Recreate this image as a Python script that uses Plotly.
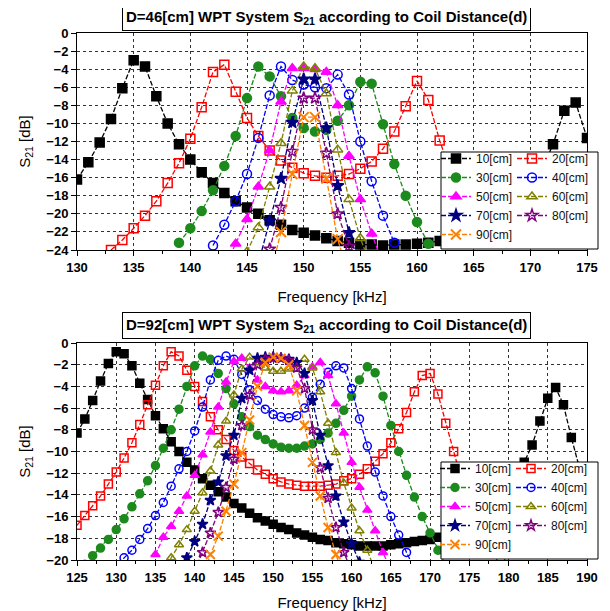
import plotly.graph_objects as go

# ---------------- data: top chart (D=46cm) ----------------
t10_f = list(range(130, 176))
t10_v = [-16.2, -14.3, -12.1, -9.5, -6.1, -3.0, -3.7, -7.0, -10.0, -12.3, -14.0, -15.4, -16.6, -17.7, -18.6,
         -19.3, -20.0, -20.7, -21.2, -21.8, -22.1, -22.4, -22.7, -23.0, -23.2, -23.4, -23.4, -23.5, -23.4, -23.4,
         -23.3, -23.2, -23.0, -22.8, -22.5, -22.0, -21.3, -20.5, -19.5, -18.0, -16.5, -15.3, -12.3, -8.6, -7.7, -11.6]
t20_f = list(range(133, 167))
t20_v = [-24.0, -22.9, -21.6, -20.2, -18.6, -16.6, -14.4, -11.7, -8.2, -4.3, -3.5, -6.5, -9.4, -11.4, -13.0, -14.1,
         -14.9, -15.5, -15.8, -16.0, -15.8, -15.6, -15.0, -14.2, -12.8, -10.9, -8.1, -5.3, -7.4, -11.9, -15.5, -18.5,
         -21.0, -23.3]
t30_f = list(range(139, 162))
t30_v = [-23.2, -21.6, -19.7, -17.4, -14.7, -11.4, -7.2, -3.7, -4.8, -7.0, -9.4, -10.5, -10.9, -10.7, -9.7, -8.0,
         -5.4, -5.6, -10.1, -14.5, -18.0, -20.9, -23.3]
t40_f = list(range(142, 159))
t40_v = [-23.5, -21.2, -18.6, -15.6, -11.6, -6.9, -3.7, -5.2, -5.7, -6.0, -6.1, -4.6, -6.8, -12.0, -16.4, -20.2, -23.2]
t50_f = list(range(143, 158))
t50_v = [-26.0, -23.3, -20.6, -17.0, -13.0, -7.6, -3.9, -3.9, -4.0, -4.3, -8.0, -13.6, -18.4, -22.2, -25.5]
t60_f = list(range(145, 157))
t60_v = [-24.2, -21.5, -17.0, -12.2, -6.4, -3.7, -3.9, -6.7, -12.9, -18.4, -22.7, -26.0]
t70_f = list(range(146, 156))
t70_v = [-25.5, -20.8, -16.1, -9.9, -5.1, -5.1, -10.5, -16.9, -22.1, -26.0]
t80_f = list(range(147, 155))
t80_v = [-23.9, -19.3, -13.1, -7.2, -7.2, -13.3, -20.0, -23.6]
t90_f = list(range(147, 155))
t90_v = [-27.0, -22.0, -15.6, -9.3, -9.3, -16.1, -22.8, -27.0]

# ---------------- data: bottom chart (D=92cm) ----------------
b10_f = list(range(125, 190))
b10_v = [-8.3, -7.0, -5.3, -3.5, -1.9, -0.8, -1.0, -2.1, -3.7, -5.2, -6.7, -7.9, -9.1, -10.0, -11.0, -11.7, -12.5,
         -13.1, -13.7, -14.2, -14.8, -15.2, -15.7, -16.1, -16.4, -16.7, -17.0, -17.2, -17.5, -17.7, -17.9, -18.1,
         -18.2, -18.4, -18.5, -18.6, -18.7, -18.7, -18.7, -18.7, -18.6, -18.5, -18.4, -18.3, -18.2, -18.1, -17.9,
         -17.8, -17.6, -17.3, -17.0, -16.6, -16.1, -15.5, -14.6, -13.5, -12.3, -11.0, -9.4, -7.2, -5.1, -4.1, -5.7,
         -8.7, -11.4]
b20_f = list(range(125, 180))
b20_v = [-16.8, -15.9, -15.0, -14.1, -13.0, -11.9, -10.6, -9.2, -7.5, -5.7, -3.9, -2.1, -0.8, -1.2, -2.5, -4.0,
         -5.4, -6.8, -8.0, -8.9, -9.9, -10.5, -11.1, -11.7, -12.1, -12.5, -12.8, -13.0, -13.1, -13.2, -13.2, -13.2,
         -13.1, -13.0, -12.7, -12.5, -12.1, -11.6, -10.9, -10.2, -9.2, -7.9, -6.4, -4.5, -3.0, -2.8, -4.7, -7.4,
         -10.0, -12.6, -15.0, -16.8, -18.1, -19.0, -20.1]
b30_f = list(range(126, 173))
b30_v = [-20.4, -19.6, -18.9, -18.1, -17.2, -16.2, -15.1, -13.9, -12.7, -11.3, -9.7, -8.0, -6.1, -4.0, -2.1, -1.2,
         -1.5, -2.8, -4.2, -5.6, -6.8, -7.7, -8.5, -8.9, -9.3, -9.6, -9.7, -9.7, -9.5, -9.3, -8.9, -8.3, -7.4, -6.2,
         -4.9, -3.4, -2.2, -2.75, -4.9, -7.6, -10.0, -12.2, -14.2, -16.0, -17.5, -19.1, -20.5]
b40_f = list(range(130, 169))
b40_v = [-21.0, -19.8, -19.1, -18.1, -17.1, -15.9, -14.7, -13.2, -11.6, -10.0, -8.1, -5.9, -3.4, -1.6, -1.2, -1.5,
         -2.9, -4.3, -5.3, -6.1, -6.6, -6.8, -6.9, -6.7, -6.0, -5.0, -3.8, -2.7, -2.1, -2.3, -4.2, -7.0, -9.5, -11.9,
         -14.1, -16.0, -17.7, -19.3, -20.8]
b50_f = list(range(135, 166))
b50_v = [-19.5, -17.9, -16.9, -15.5, -14.1, -12.2, -10.3, -8.2, -5.9, -3.6, -1.7, -1.4, -2.3, -3.4, -4.0, -4.4,
         -4.5, -4.4, -3.9, -3.0, -2.2, -1.8, -3.0, -5.6, -8.3, -11.0, -13.3, -15.4, -17.3, -19.3, -21.0]
b60_f = list(range(136, 164))
b60_v = [-21.0, -19.8, -18.6, -17.2, -15.5, -13.8, -11.8, -9.4, -7.2, -4.8, -2.4, -1.3, -1.8, -2.3, -2.6, -2.6,
         -2.4, -2.0, -1.5, -2.3, -4.5, -7.4, -10.1, -12.9, -15.2, -17.3, -19.1, -21.0]
b70_f = list(range(138, 162))
b70_v = [-21.5, -19.8, -18.3, -16.7, -14.5, -12.8, -10.4, -8.5, -5.1, -2.5, -1.4, -1.3, -1.3, -1.4, -1.5, -1.8,
         -2.8, -5.3, -8.5, -11.3, -14.1, -16.5, -18.5, -20.2]
b80_f = list(range(140, 161))
b80_v = [-21.0, -19.3, -17.5, -15.6, -13.3, -10.7, -7.6, -4.8, -2.0, -1.5, -1.4, -1.4, -1.6, -2.3, -4.2, -8.0,
         -11.5, -14.3, -17.0, -19.3, -21.0]
b90_f = list(range(141, 160))
b90_v = [-21.5, -19.5, -17.8, -15.5, -13.0, -10.1, -7.1, -4.0, -1.8, -1.3, -1.4, -2.0, -4.4, -7.6, -11.0, -14.1,
         -17.0, -19.5, -21.5]

names = ["10[cm]", "20[cm]", "30[cm]", "40[cm]", "50[cm]", "60[cm]", "70[cm]", "80[cm]", "90[cm]"]
colors = ["#000000", "#ff0000", "#1c8a1c", "#0000ff", "#ff00ff", "#808000", "#000080", "#800080", "#ff8000"]
symbols = ["square", "square-open", "circle", "circle-open", "triangle-up", "triangle-up-open",
           "star", "star-open", "x-thin-open"]

top = [(t10_f, t10_v), (t20_f, t20_v), (t30_f, t30_v), (t40_f, t40_v), (t50_f, t50_v),
       (t60_f, t60_v), (t70_f, t70_v), (t80_f, t80_v), (t90_f, t90_v)]
bot = [(b10_f, b10_v), (b20_f, b20_v), (b30_f, b30_v), (b40_f, b40_v), (b50_f, b50_v),
       (b60_f, b60_v), (b70_f, b70_v), (b80_f, b80_v), (b90_f, b90_v)]

fig = go.Figure()

def add_series(data, xa, ya, legs, msize):
    for i, (f, v) in enumerate(data):
        sym = symbols[i]
        mk = dict(symbol=sym, size=msize, color=colors[i], line=dict(color=colors[i], width=1.5))
        if sym == "x-thin-open":
            mk["size"] = msize + 1
            mk["line"]["width"] = 2
        fig.add_trace(go.Scatter(
            x=f, y=v, mode="lines+markers", name=names[i],
            xaxis=xa, yaxis=ya,
            line=dict(color=colors[i], width=1.3, dash="5px,2px"),
            marker=mk, cliponaxis=True,
            legend=legs[i % 2], showlegend=True))

add_series(top, "x", "y", ["legend", "legend2"], 9)
add_series(bot, "x2", "y2", ["legend3", "legend4"], 8)

# page body has an 8px margin: figure is drawn offset by (8, 8) in the window
OFF = 8
W, H = 610 - OFF, 611 - OFF
L = 77 - OFF
R = W - (587 - OFF)
T = 33 - OFF
B = H - (560 - OFF)
PW, PH = W - L - R, H - T - B

def px(xp):  # screen x -> paper fraction
    return (xp - OFF - L) / PW

def py(yp):  # screen y -> paper fraction
    return (H - B - (yp - OFF)) / PH

axfont = dict(family="Liberation Sans", size=13, color="black", weight="bold")
common_x = dict(showline=True, linecolor="black", linewidth=1, mirror=True, ticks="outside", ticklen=5,
                tickcolor="black", tickfont=axfont, showgrid=True, gridcolor="#333", griddash="3px,3px",
                gridwidth=1, zeroline=False, automargin=False,
                minor=dict(ticks="outside", ticklen=3, tickcolor="black", showgrid=False, dtick=2.5))
common_y = dict(showline=True, linecolor="black", linewidth=1, mirror=True, ticks="outside", ticklen=5,
                tickcolor="black", tickfont=axfont, showgrid=True, gridcolor="#333", griddash="3px,3px",
                gridwidth=1, zeroline=False, automargin=False)

fig.update_layout(
    width=W, height=H, margin=dict(l=L, r=R, t=T, b=B, autoexpand=False),
    paper_bgcolor="white", plot_bgcolor="white",
    font=dict(family="Liberation Sans", color="black"),
    xaxis=dict(domain=[0, 1], anchor="y", range=[130, 175], dtick=5, tick0=130,
               title=dict(text="Frequency [kHz]", font=dict(size=15), standoff=17),
               **common_x),
    yaxis=dict(domain=[py(250), 1], anchor="x", range=[-24, 0], dtick=2,
               title=dict(text="S<sub>21</sub> [dB]", font=dict(size=15), standoff=12), **common_y),
    xaxis2=dict(domain=[0, 1], anchor="y2", range=[125, 190], dtick=5, tick0=125,
                title=dict(text="Frequency [kHz]", font=dict(size=15), standoff=14),
                **common_x),
    yaxis2=dict(domain=[0, py(343)], anchor="x2", range=[-20, 0], dtick=2,
                title=dict(text="S<sub>21</sub> [dB]", font=dict(size=15), standoff=12), **common_y),
)

legfont = dict(family="Liberation Sans", size=12, color="#111")
legcommon = dict(font=legfont, bgcolor="rgba(0,0,0,0)", borderwidth=0, xanchor="left", yanchor="top",
                 tracegroupgap=0, itemwidth=30, orientation="v")
fig.update_layout(
    legend=dict(x=px(436), y=py(144), **legcommon),
    legend2=dict(x=px(512), y=py(144), **legcommon),
    legend3=dict(x=px(435), y=py(454), **legcommon),
    legend4=dict(x=px(511), y=py(454), **legcommon),
)

shapes = []
for (y0, y1) in [(152, 249), (462, 559)]:
    shapes.append(dict(type="rect", xref="paper", yref="paper", x0=px(441), x1=px(598), y0=py(y1), y1=py(y0),
                       fillcolor="white", line=dict(color="black", width=1), layer="above"))
fig.update_layout(shapes=shapes)

titfont = dict(family="Liberation Sans", size=15, color="black", weight="bold")
fig.add_annotation(text="D=46[cm] WPT System S<sub>21</sub> according to Coil Distance(d)",
                   xref="paper", yref="paper", x=px(326), y=py(17), xanchor="center", yanchor="middle",
                   showarrow=False, font=titfont,
                   bordercolor="black", borderwidth=1, borderpad=3, bgcolor="white")
fig.add_annotation(text="D=92[cm] WPT System S<sub>21</sub> according to Coil Distance(d)",
                   xref="paper", yref="paper", x=px(326), y=py(326), xanchor="center", yanchor="middle",
                   showarrow=False, font=titfont,
                   bordercolor="black", borderwidth=1, borderpad=3, bgcolor="white")

fig.write_html("out.html")
